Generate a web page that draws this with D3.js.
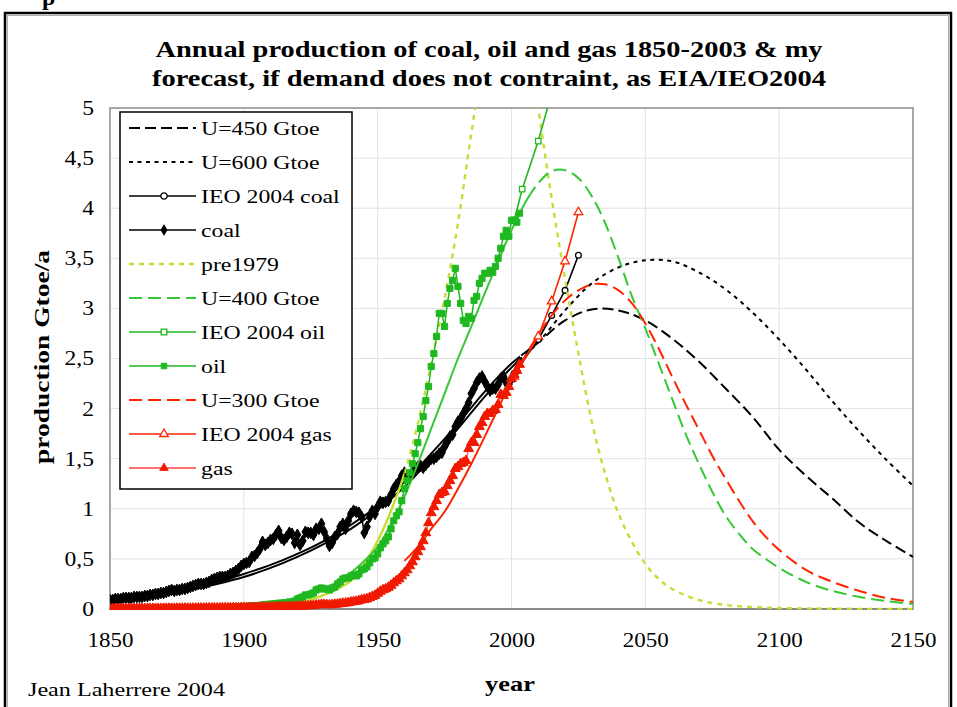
<!DOCTYPE html>
<html><head><meta charset="utf-8">
<script src="https://cdn.jsdelivr.net/npm/d3@7/dist/d3.min.js"></script>
<style>
body{margin:0;background:#fff}
svg{display:block}
</style>
</head><body>
<svg id="chart" width="957" height="707"></svg>
<script>
// ---------------- DATA ----------------
const histStart = 1850; // annual historical series 1850-2003
const coal = [
0.09,0.09,0.1,0.1,0.1,0.11,0.11,0.11,0.11,0.12,
0.12,0.12,0.12,0.13,0.13,0.14,0.14,0.15,0.15,0.16,
0.16,0.17,0.18,0.19,0.18,0.19,0.19,0.2,0.2,0.21,
0.22,0.23,0.24,0.25,0.25,0.25,0.26,0.27,0.29,0.3,
0.31,0.32,0.32,0.32,0.33,0.35,0.36,0.38,0.4,0.43,
0.45,0.46,0.47,0.52,0.53,0.56,0.6,0.67,0.64,0.66,
0.69,0.7,0.74,0.78,0.71,0.69,0.72,0.76,0.75,0.66,
0.74,0.64,0.68,0.77,0.76,0.76,0.74,0.8,0.8,0.85,
0.77,0.7,0.63,0.66,0.72,0.75,0.82,0.85,0.8,0.88,
0.95,0.98,0.97,0.96,0.92,0.76,0.82,0.92,0.98,0.95,
1.02,1.07,1.06,1.07,1.08,1.14,1.2,1.24,1.27,1.33,
1.36,1.3,1.32,1.36,1.4,1.42,1.43,1.41,1.44,1.47,
1.5,1.5,1.52,1.55,1.56,1.62,1.67,1.72,1.74,1.82,
1.87,1.9,1.95,2.0,2.06,2.15,2.2,2.26,2.3,2.32,
2.27,2.22,2.18,2.2,2.2,2.24,2.3,2.32,2.26,2.24,
2.3,2.32,2.38,2.46];
const oil = [
0,0,0,0,0,0,0,0,0,0.001,
0.001,0.001,0.001,0.002,0.002,0.002,0.002,0.003,0.003,0.003,
0.003,0.003,0.004,0.004,0.005,0.005,0.005,0.006,0.006,0.007,
0.007,0.008,0.008,0.009,0.009,0.01,0.01,0.011,0.012,0.012,
0.013,0.014,0.015,0.016,0.016,0.017,0.019,0.02,0.021,0.023,
0.025,0.027,0.029,0.031,0.034,0.033,0.035,0.04,0.044,0.046,
0.048,0.05,0.052,0.058,0.058,0.06,0.064,0.07,0.07,0.08,
0.1,0.11,0.12,0.14,0.14,0.15,0.16,0.19,0.2,0.21,
0.2,0.2,0.19,0.21,0.22,0.25,0.27,0.3,0.31,0.31,
0.33,0.34,0.33,0.35,0.39,0.4,0.42,0.46,0.5,0.51,
0.55,0.61,0.65,0.68,0.72,0.8,0.88,0.93,0.97,1.08,
1.2,1.28,1.36,1.45,1.55,1.66,1.8,1.92,2.08,2.22,
2.42,2.55,2.72,2.95,2.95,2.82,3.05,3.2,3.28,3.4,
3.22,3.05,2.88,2.85,2.92,2.9,3.08,3.12,3.25,3.3,
3.35,3.35,3.38,3.36,3.42,3.5,3.6,3.72,3.78,3.72,
3.88,3.88,3.86,3.95];
const gas = [
0.002,0.002,0.002,0.002,0.002,0.002,0.003,0.003,0.003,0.003,
0.003,0.003,0.003,0.003,0.004,0.004,0.004,0.004,0.004,0.004,
0.005,0.005,0.005,0.005,0.005,0.005,0.006,0.006,0.006,0.006,
0.006,0.006,0.007,0.007,0.007,0.008,0.008,0.008,0.009,0.009,
0.009,0.009,0.01,0.01,0.01,0.01,0.011,0.011,0.011,0.012,
0.012,0.012,0.013,0.013,0.014,0.014,0.015,0.016,0.016,0.017,
0.017,0.018,0.019,0.02,0.02,0.021,0.022,0.023,0.024,0.024,
0.025,0.026,0.027,0.029,0.031,0.033,0.035,0.038,0.04,0.045,
0.044,0.042,0.04,0.042,0.045,0.048,0.052,0.056,0.058,0.062,
0.068,0.072,0.076,0.082,0.09,0.095,0.1,0.112,0.124,0.135,
0.155,0.175,0.19,0.2,0.215,0.235,0.26,0.28,0.3,0.33,
0.36,0.39,0.43,0.47,0.52,0.57,0.62,0.68,0.76,0.86,
0.96,1.02,1.08,1.14,1.16,1.17,1.23,1.28,1.33,1.4,
1.42,1.45,1.46,1.48,1.6,1.66,1.66,1.74,1.82,1.86,
1.92,1.95,1.95,1.98,1.99,2.04,2.14,2.13,2.16,2.22,
2.3,2.34,2.38,2.44];

// IEO 2004 projections
const ieoYears = [2001,2010,2015,2020,2025];
const ieoCoal = [2.35,2.69,2.93,3.18,3.53];
const ieoOilYears = [2001,2004,2010,2015,2020,2025];
const ieoOil  = [3.88,4.19,4.67,5.15,5.6,6.1];
const ieoGas  = [2.32,2.72,3.07,3.47,3.96];

// Hubbert-type forecasts
const uCoalYears = [1850,1860,1870,1880,1890,1900,1910,1920,1930,1940,1950,1960,1970,1980,1990,2000,2010,2020,2030,2040,2050,2060,2070,2080,2090,2100,2110,2120,2130,2140,2150];
const u450 = [0.08,0.11,0.15,0.2,0.27,0.35,0.44,0.55,0.68,0.84,1.03,1.27,1.55,1.85,2.17,2.45,2.66,2.88,2.99,2.98,2.88,2.7,2.47,2.2,1.92,1.59,1.33,1.1,0.86,0.68,0.52];
const u600 = [0.07,0.1,0.14,0.19,0.25,0.32,0.41,0.52,0.65,0.8,0.99,1.22,1.5,1.8,2.12,2.41,2.66,2.98,3.25,3.41,3.48,3.47,3.36,3.19,2.96,2.69,2.39,2.07,1.77,1.49,1.23];

const u400Years = [1940,1950,1955,1960,1965,1970,1975,1980,1985,1990,1995,2000,2005,2010,2015,2020,2025,2030,2035,2040,2045,2050,2055,2060,2065,2070,2075,2080,2085,2090,2095,2100,2110,2120,2130,2140,2150];
const u400 = [0.36,0.62,0.85,1.12,1.45,1.8,2.15,2.5,2.82,3.15,3.47,3.78,4.05,4.25,4.37,4.38,4.3,4.12,3.85,3.5,3.12,2.8,2.45,2.1,1.75,1.45,1.17,0.93,0.75,0.6,0.5,0.41,0.27,0.18,0.12,0.08,0.05];

const u300Years = [1960,1965,1970,1975,1980,1985,1990,1995,2000,2005,2010,2015,2020,2025,2030,2035,2040,2045,2050,2055,2060,2065,2070,2075,2080,2085,2090,2095,2100,2110,2120,2130,2140,2150];
const u300 = [0.48,0.62,0.8,0.97,1.2,1.45,1.72,2.0,2.28,2.52,2.74,2.93,3.08,3.18,3.24,3.24,3.18,3.05,2.85,2.6,2.32,2.05,1.79,1.53,1.3,1.08,0.88,0.72,0.59,0.39,0.27,0.18,0.11,0.07];

const preYears = [1920,1930,1935,1940,1945,1950,1955,1960,1965,1970,1975,1980,1985,1990,1995,2000,2005,2010,2015,2020,2025,2030,2035,2040,2045,2050,2055,2060,2070,2080,2090,2100,2120,2150];
const pre1979 = [0.05,0.14,0.2,0.28,0.45,0.68,0.98,1.35,1.85,2.45,3.1,3.85,4.75,5.6,6.3,6.45,5.95,5.0,4.1,3.3,2.55,1.87,1.35,0.95,0.67,0.45,0.3,0.2,0.09,0.04,0.02,0.01,0.003,0.0];

const xTicks = [1850,1900,1950,2000,2050,2100,2150];
const yTicks = [0,0.5,1,1.5,2,2.5,3,3.5,4,4.5,5];
const legendLabels = ["U=450 Gtoe","U=600 Gtoe","IEO 2004 coal","coal","pre1979","U=400 Gtoe","IEO 2004 oil","oil","U=300 Gtoe","IEO 2004 gas","gas"];

const titleLines = ["Annual production of coal, oil and gas 1850-2003 & my",
                    "forecast, if demand does not contraint, as EIA/IEO2004"];

// ---------------- FONT PICK ----------------
function pickSerif(){
  const cands = ["Liberation Serif","Times New Roman","Tinos","Nimbus Roman","Nimbus Roman No9 L","Times","FreeSerif","Noto Serif","DejaVu Serif"];
  const c = document.createElement("canvas").getContext("2d");
  const s = "mmmmmmmmmmlliWW 0123456789 production";
  for(const f of cands){
    let ok = false;
    for(const base of ["monospace","sans-serif"]){
      c.font = "40px " + base; const w0 = c.measureText(s).width;
      c.font = `40px "${f}", ${base}`; const w1 = c.measureText(s).width;
      if(Math.abs(w1-w0) > 0.5){ ok = true; }
    }
    if(ok) return `"${f}", serif`;
  }
  return "serif";
}
const FONT = pickSerif();

// ---------------- CHART ----------------
const svg = d3.select("#chart");
const L = 110, R = 913, T = 108, B = 609;
const x = d3.scaleLinear().domain([1850,2150]).range([L,R]);
const y = d3.scaleLinear().domain([0,5]).range([B,T]);

const BLACK = "#000000", GREEN = "#20b820", GREEN2 = "#35c835", YG = "#c8dc34", RED = "#ff2400", PINK = "#ff7070";

function stretch(sel, f){
  sel.each(function(){
    const l = this.getComputedTextLength();
    this.setAttribute("textLength", l*f);
    this.setAttribute("lengthAdjust","spacingAndGlyphs");
  });
}
function fitTo(sel, w){
  sel.attr("textLength", w).attr("lengthAdjust","spacingAndGlyphs");
}

// outer frame
svg.append("rect").attr("x",5).attr("y",13).attr("width",946).attr("height",720)
  .attr("fill","none").attr("stroke","#000").attr("stroke-width",2.5);
svg.append("rect").attr("x",7.5).attr("y",15.5).attr("width",941).attr("height",720)
  .attr("fill","none").attr("stroke","#999").attr("stroke-width",0.8);
// text cut off at the top edge (as in the source)
svg.append("text").attr("x",42).attr("y",5).attr("font-family",FONT).attr("font-size",24).attr("font-weight","bold").text("p");

// title
titleLines.forEach((t,i)=>{
  svg.append("text").attr("x",489).attr("y",57+i*29).attr("text-anchor","middle")
    .attr("font-family",FONT).attr("font-size",23).attr("font-weight","bold").text(t)
    .call(s=>fitTo(s, i===0?667:674));
});

// defs / clips
const defs = svg.append("defs");
defs.append("clipPath").attr("id","plotClip").append("rect")
  .attr("x",L).attr("y",T).attr("width",R-L).attr("height",B-T+1);
let clipId = 0;
function partClip(x0,x1){
  const id = "pc"+(clipId++);
  defs.append("clipPath").attr("id",id).append("rect")
    .attr("x",x0).attr("y",T).attr("width",Math.max(0,x1-x0)).attr("height",B-T+1);
  return id;
}

// grid
const grid = svg.append("g");
grid.selectAll("line.h").data(yTicks.filter(d=>d>0 && d<5)).join("line")
  .attr("x1",L).attr("x2",R).attr("y1",d=>y(d)).attr("y2",d=>y(d))
  .attr("stroke","#e2e2e2").attr("stroke-width",1);
grid.selectAll("line.v").data(xTicks.filter(d=>d>1850 && d<2150)).join("line")
  .attr("x1",d=>x(d)).attr("x2",d=>x(d)).attr("y1",T).attr("y2",B)
  .attr("stroke","#e2e2e2").attr("stroke-width",1);

// plot border
svg.append("rect").attr("x",L).attr("y",T).attr("width",R-L).attr("height",B-T)
  .attr("fill","none").attr("stroke","#a8a8a8").attr("stroke-width",2);
svg.append("line").attr("x1",L-1).attr("x2",R).attr("y1",B).attr("y2",B).attr("stroke","#808080").attr("stroke-width",1.5);

// axes
const xAxis = svg.append("g").attr("transform",`translate(0,${B})`)
  .call(d3.axisBottom(x).tickValues(xTicks).tickSize(0).tickPadding(24).tickFormat(d3.format("d")));
xAxis.select(".domain").remove();
xAxis.attr("font-family",FONT).attr("font-size",20);
xAxis.selectAll("text").call(s=>stretch(s,1.15));

const yAxis = svg.append("g").attr("transform",`translate(${L},0)`)
  .call(d3.axisLeft(y).tickValues(yTicks).tickSize(0).tickPadding(16).tickFormat(d=>String(d).replace(".",",")));
yAxis.select(".domain").remove();
yAxis.attr("font-family",FONT).attr("font-size",20);
yAxis.selectAll("text").call(s=>stretch(s,1.18));

// axis titles
svg.append("text").attr("transform","translate(49,357) rotate(-90)").attr("text-anchor","middle")
  .attr("font-family",FONT).attr("font-size",22).attr("font-weight","bold").text("production Gtoe/a").call(s=>fitTo(s,214));
svg.append("text").attr("x",510).attr("y",691).attr("text-anchor","middle")
  .attr("font-family",FONT).attr("font-size",22).attr("font-weight","bold").text("year").call(s=>stretch(s,1.2));
svg.append("text").attr("x",28).attr("y",696).attr("font-family",FONT).attr("font-size",19).text("Jean Laherrere 2004").call(s=>fitTo(s,197));

// ---- series drawing helpers ----
const plot = svg.append("g");
function toPts(years, vals){ return years.map((yr,i)=>({yr, v:vals[i]})); }
function curveSeries(years, vals, color, width, dash, solidUntil){
  const pts = toPts(years, vals);
  const line = d3.line().x(d=>x(d.yr)).y(d=>y(d.v)).curve(d3.curveCatmullRom.alpha(0.5));
  const g = plot.append("g").attr("clip-path","url(#plotClip)");
  const xs = x(solidUntil);
  g.append("g").attr("clip-path",`url(#${partClip(L,xs)})`).append("path")
    .attr("d",line(pts)).attr("fill","none").attr("stroke",color).attr("stroke-width",width);
  g.append("g").attr("clip-path",`url(#${partClip(xs,R+2)})`).append("path")
    .attr("d",line(pts)).attr("fill","none").attr("stroke",color).attr("stroke-width",width)
    .attr("stroke-dasharray",dash);
}
function dataSeries(years, vals, lineColor, markColor, symbol, size, open, width){
  const pts = toPts(years, vals);
  const g = plot.append("g").attr("clip-path","url(#plotClip)");
  g.append("path").attr("d", d3.line().x(d=>x(d.yr)).y(d=>y(d.v))(pts))
    .attr("fill","none").attr("stroke",lineColor).attr("stroke-width",width);
  g.selectAll("path.m").data(pts).join("path").attr("class","m")
    .attr("transform",d=>`translate(${x(d.yr)},${y(d.v)})`)
    .attr("d", d3.symbol().type(symbol).size(size)())
    .attr("fill", open ? "#fff" : markColor)
    .attr("stroke", markColor).attr("stroke-width", open ? 1.3 : 1);
}
const histYears = coal.map((_,i)=>histStart+i);

// draw in legend order
curveSeries(uCoalYears, u450, BLACK, 2, "11,5", 2003);
curveSeries(uCoalYears, u600, BLACK, 2, "4,4.5", 2003);
dataSeries(ieoYears, ieoCoal, BLACK, BLACK, d3.symbolCircle, 26, true, 1.6);
dataSeries(histYears, coal, BLACK, BLACK, d3.symbolDiamond, 40, false, 1.5);
curveSeries(preYears, pre1979, YG, 2.4, "5,5", 1960);
curveSeries(u400Years, u400, GREEN2, 2, "13,6", 2007);
dataSeries(ieoOilYears, ieoOil, GREEN, GREEN, d3.symbolSquare, 30, true, 1.6);
dataSeries(histYears, oil, GREEN, GREEN, d3.symbolSquare, 38, false, 1.5);
curveSeries(u300Years, u300, RED, 2, "13,6", 2003);
dataSeries(ieoYears, ieoGas, RED, RED, d3.symbolTriangle, 32, true, 1.6);
dataSeries(histYears, gas, PINK, "#f01a00", d3.symbolTriangle, 42, false, 1.5);

// ---- legend ----
const lg = svg.append("g");
lg.append("rect").attr("x",120).attr("y",112).attr("width",232).attr("height",377)
  .attr("fill","#fff").attr("stroke","#000").attr("stroke-width",1.5);
const legendStyles = [
  {c:BLACK, w:2, dash:"11,5"},
  {c:BLACK, w:2, dash:"4,4.5"},
  {c:BLACK, w:1.6, m:d3.symbolCircle, open:true, mc:BLACK},
  {c:BLACK, w:1.6, m:d3.symbolDiamond, mc:BLACK},
  {c:YG, w:2.4, dash:"5,5"},
  {c:GREEN2, w:2, dash:"13,6"},
  {c:GREEN, w:1.6, m:d3.symbolSquare, open:true, mc:GREEN},
  {c:GREEN, w:1.6, m:d3.symbolSquare, mc:GREEN},
  {c:RED, w:2, dash:"13,6"},
  {c:RED, w:1.6, m:d3.symbolTriangle, open:true, mc:RED},
  {c:PINK, w:1.8, m:d3.symbolTriangle, mc:"#f01a00"}
];
legendLabels.forEach((lab,i)=>{
  const cy = 128 + i*34, s = legendStyles[i];
  lg.append("line").attr("x1",129).attr("x2",196).attr("y1",cy).attr("y2",cy)
    .attr("stroke",s.c).attr("stroke-width",s.w).attr("stroke-dasharray",s.dash||null);
  if(s.m){
    lg.append("path").attr("transform",`translate(164,${cy})`)
      .attr("d",d3.symbol().type(s.m).size(32)())
      .attr("fill",s.open?"#fff":s.mc).attr("stroke",s.mc).attr("stroke-width",s.open?1.3:0.8);
  }
  lg.append("text").attr("x",201).attr("y",cy).attr("dy","0.34em")
    .attr("font-family",FONT).attr("font-size",19.5)
    .text(lab).call(t=>stretch(t,1.22));
});
</script>
</body></html>
